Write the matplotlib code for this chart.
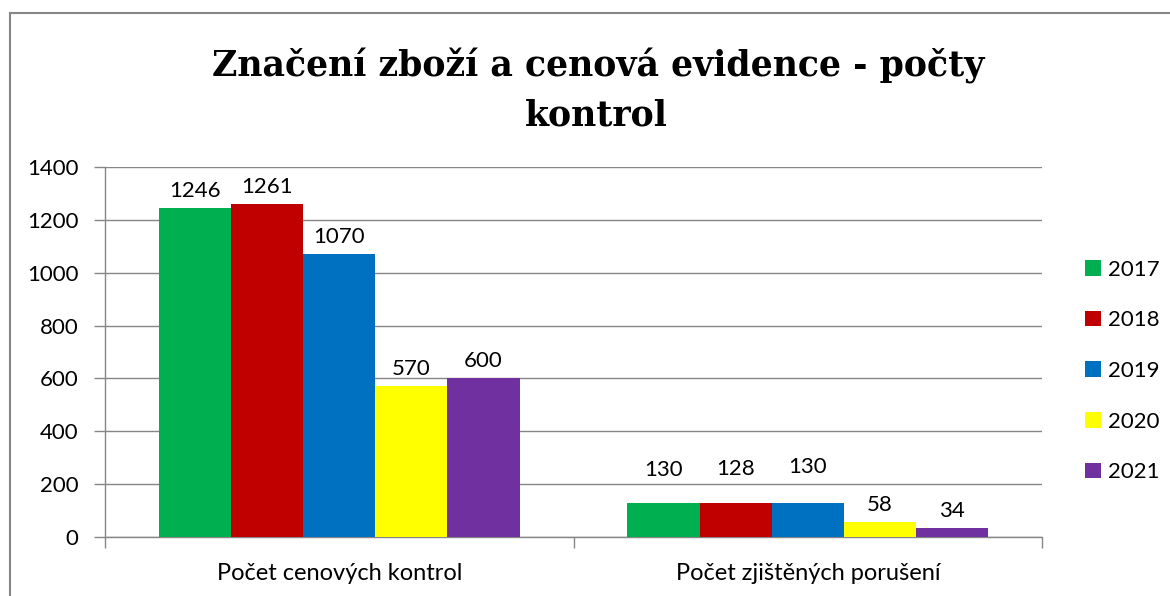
import matplotlib
matplotlib.use("Agg")
import matplotlib.pyplot as plt
import numpy as np
from matplotlib.patches import Rectangle

categories = ["Počet cenových kontrol", "Počet zjištěných porušení"]
years = ["2017", "2018", "2019", "2020", "2021"]
values = {
    "2017": [1246, 130],
    "2018": [1261, 128],
    "2019": [1070, 130],
    "2020": [570, 58],
    "2021": [600, 34],
}
colors = ["#00B050", "#C00000", "#0070C0", "#FFFF00", "#7030A0"]
title_lines = ["Značení zboží a cenová evidence - počty", "kontrol"]
yticks = [0, 200, 400, 600, 800, 1000, 1200, 1400]

W, H = 1170, 596
fig = plt.figure(figsize=(W / 100, H / 100), dpi=100)
fig.patch.set_facecolor("white")

# chart border
fig.add_artist(Rectangle((10 / W, -0.1), 1.2, 1 - 13 / H + 0.1, transform=fig.transFigure,
                         fill=False, edgecolor="#868686", linewidth=1.5))

ax = fig.add_axes([105 / W, 1 - 537 / H, (1042 - 105) / W, (537 - 167) / H])
font = "Lato"
grid_c = "#868686"
px = 0.72  # points per pixel

# extra raise (px) of some labels, as in the reference (label collision avoidance)
extra_raise = {(0, 1): 16, (1, 1): 17, (2, 1): 19}

x = np.arange(len(categories))
bw = 0.154
for i, (yr, c) in enumerate(zip(years, colors)):
    pos = x + (i - 2) * bw
    bars = ax.bar(pos, values[yr], width=bw, color=c, label=yr, zorder=3)
    for j, (b, v) in enumerate(zip(bars, values[yr])):
        off = (11 + extra_raise.get((i, j), 0)) * px
        ax.annotate(str(v), (b.get_x() + b.get_width() / 2, v), xytext=(0, off),
                    textcoords="offset points", ha="center", va="baseline",
                    fontsize=16, family=font, color="black")

ax.set_xlim(-0.5, 1.5)
ax.set_ylim(0, 1400)
ax.set_yticks(yticks)
ax.set_yticklabels([str(t) for t in yticks], fontsize=16, family=font)
ax.yaxis.grid(True, color=grid_c, linewidth=1, zorder=0)
ax.set_xticks([-0.5, 0.5, 1.5])
ax.set_xticklabels([])
ax.tick_params(axis="x", length=8, color=grid_c, width=1)
ax.tick_params(axis="y", length=8, color=grid_c, width=1, pad=11)
for i, cat in enumerate(categories):
    ax.text(i, -0.1, cat, transform=ax.get_xaxis_transform(), ha="center", va="center",
            fontsize=17, family=font)
for s in ["top", "right"]:
    ax.spines[s].set_visible(False)
for s in ["left", "bottom"]:
    ax.spines[s].set_color(grid_c)
    ax.spines[s].set_linewidth(1)

leg = fig.legend(loc="center left", bbox_to_anchor=(1065 / W, 1 - 371 / H), frameon=False,
                 prop={"family": font, "size": 16}, handlelength=0.7, handleheight=0.7,
                 handletextpad=0.35, labelspacing=1.38)

fig.text(598 / W, 1 - 76 / H, title_lines[0], ha="center", va="baseline", fontsize=25,
         family="DejaVu Serif", fontweight="bold")
fig.text(596 / W, 1 - 126 / H, title_lines[1], ha="center", va="baseline", fontsize=25,
         family="DejaVu Serif", fontweight="bold")

fig.savefig("out.png", dpi=100)
